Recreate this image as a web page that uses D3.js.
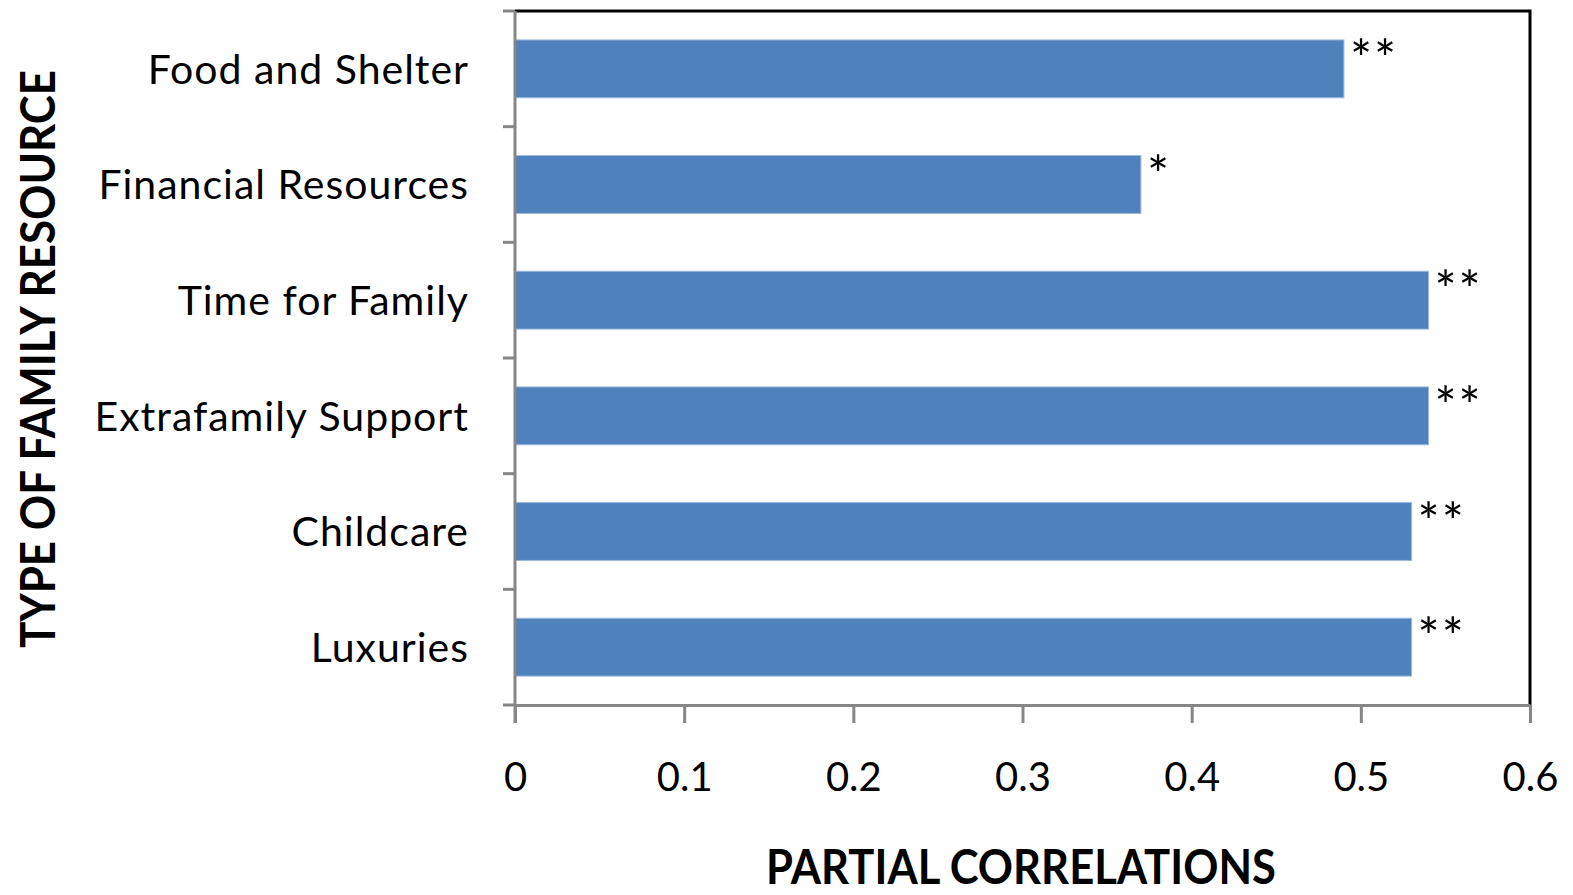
<!DOCTYPE html>
<html>
<head>
<meta charset="utf-8">
<script src="https://cdn.jsdelivr.net/npm/d3@7"></script>
<style>
  body { margin: 0; background: #fff; }
  text { font-family: Lato, "Open Sans", sans-serif; fill: #000; }
</style>
</head>
<body>
<div id="chart"></div>
<script>
"use strict";

var categories = ["Food and Shelter", "Financial Resources", "Time for Family", "Extrafamily Support", "Childcare", "Luxuries"];
var correlations = [0.49, 0.37, 0.54, 0.54, 0.53, 0.53];
var significance = ["**", "*", "**", "**", "**", "**"];
var xTicks = [0, 0.1, 0.2, 0.3, 0.4, 0.5, 0.6];

var W = 1573, H = 895;
var plot = { left: 515, right: 1530, top: 11, bottom: 705 };

var svg = d3.select("#chart").append("svg").attr("width", W).attr("height", H);

var data = categories.map(function (c, i) {
  return { name: c, value: correlations[i], sig: significance[i] };
});

var x = d3.scaleLinear().domain([0, 0.6]).range([plot.left, plot.right]);
var y = d3.scaleBand().domain(categories).range([plot.top, plot.bottom]).paddingInner(0.5).paddingOuter(0.25);

// frame: top and right black
svg.append("path")
  .attr("d", "M" + plot.left + "," + plot.top + "H" + plot.right + "V" + plot.bottom)
  .attr("fill", "none").attr("stroke", "#000").attr("stroke-width", 3);

// bars
svg.selectAll("rect.bar").data(data).enter().append("rect")
  .attr("class", "bar")
  .attr("x", x(0))
  .attr("y", function (d) { return y(d.name); })
  .attr("width", function (d) { return x(d.value) - x(0); })
  .attr("height", y.bandwidth())
  .attr("fill", "#4F81BD")
  .attr("stroke", "#9DB8DD").attr("stroke-width", 1);

// significance stars
svg.selectAll("text.sig").data(data).enter().append("text")
  .attr("class", "sig")
  .attr("x", function (d) { return x(d.value) + 6; })
  .attr("y", function (d) { return y(d.name) + 38; })
  .attr("font-size", 52)
  .attr("letter-spacing", 2)
  .text(function (d) { return d.sig; });

// x axis
var xAxis = d3.axisBottom(x).tickValues(xTicks).tickSize(18).tickPadding(40).tickFormat(d3.format("")).tickSizeOuter(0);
var gx = svg.append("g").attr("transform", "translate(0," + plot.bottom + ")").call(xAxis);
gx.select(".domain").attr("stroke", "#868686").attr("stroke-width", 3);
gx.selectAll(".tick line").attr("stroke", "#868686").attr("stroke-width", 3);
gx.selectAll(".tick text").attr("font-size", 40).attr("font-family", "Lato, sans-serif").attr("fill", "#000");

// y axis: ticks at category boundaries
var boundaries = d3.range(categories.length + 1).map(function (i) {
  return plot.top + i * (plot.bottom - plot.top) / categories.length;
});
svg.append("line").attr("x1", plot.left).attr("x2", plot.left)
  .attr("y1", plot.top).attr("y2", plot.bottom + 18)
  .attr("stroke", "#868686").attr("stroke-width", 3);
svg.selectAll("line.ytick").data(boundaries).enter().append("line")
  .attr("class", "ytick")
  .attr("x1", plot.left - 12).attr("x2", plot.left)
  .attr("y1", function (d) { return d; }).attr("y2", function (d) { return d; })
  .attr("stroke", "#868686").attr("stroke-width", 3);

// category labels
svg.selectAll("text.cat").data(data).enter().append("text")
  .attr("class", "cat")
  .attr("x", 469)
  .attr("y", function (d) { return y(d.name) + y.bandwidth() / 2; })
  .attr("dy", "0.36em")
  .attr("text-anchor", "end")
  .attr("font-size", 41)
  .attr("letter-spacing", 1)
  .text(function (d) { return d.name; });

// axis titles
svg.append("text")
  .attr("text-anchor", "middle")
  .attr("transform", "translate(55,359)rotate(-90)")
  .attr("font-size", 48).attr("font-weight", "bold")
  .attr("textLength", 578).attr("lengthAdjust", "spacingAndGlyphs")
  .text("TYPE OF FAMILY RESOURCE");

svg.append("text")
  .attr("text-anchor", "middle")
  .attr("x", 1021).attr("y", 884)
  .attr("font-size", 48).attr("font-weight", "bold")
  .attr("textLength", 510).attr("lengthAdjust", "spacingAndGlyphs")
  .text("PARTIAL CORRELATIONS");
</script>
</body>
</html>
